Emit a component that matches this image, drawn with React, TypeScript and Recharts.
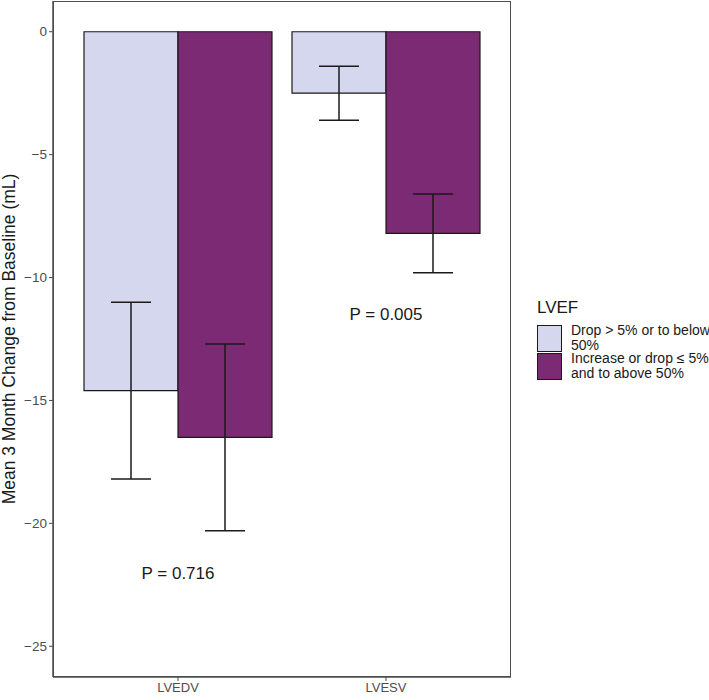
import React from 'react';
import { BarChart, Bar, XAxis, YAxis, ErrorBar, ReferenceDot } from 'recharts';

const categories = ['LVEDV', 'LVESV'];
const dropMeans = [-14.6, -2.5];
const dropErr = [3.6, 1.1];
const incMeans = [-16.5, -8.2];
const incErr = [3.8, 1.6];
const yTicks = [0, -5, -10, -15, -20, -25];
const pLabels = [
  { x: 'LVEDV', y: -22, text: 'P = 0.716' },
  { x: 'LVESV', y: -11.5, text: 'P = 0.005' },
];
const legendTitle = 'LVEF';
const seriesNames = ['Drop > 5% or to below 50%', 'Increase or drop \u2264 5% and to above 50%'];

const data = categories.map((c, i) => ({
  name: c,
  drop: dropMeans[i],
  dropErr: dropErr[i],
  inc: incMeans[i],
  incErr: incErr[i],
}));

const LIGHT = '#d5d7ee';
const PURPLE = '#7b2a73';
const FONT = '"Liberation Sans", Arial, Helvetica, sans-serif';
const BORDER = '#4d4d4d';

const YTick = (props: any) => {
  const { x, y, payload } = props;
  const v = payload.value as number;
  const s = v < 0 ? '\u2212' + String(Math.abs(v)) : String(v);
  return (
    <text x={x} y={y} dy={4.5} textAnchor="end" fill="#4d4d4d" fontSize={13.5} fontFamily={FONT}>
      {s}
    </text>
  );
};

export default function App() {
  return (
    <div style={{ position: 'absolute', left: 0, top: 0, width: 709, height: 700, background: '#fff', fontFamily: FONT }}>
      <BarChart
        width={709}
        height={700}
        data={data}
        margin={{ top: 1, right: 198, bottom: 0, left: 0 }}
        barGap={0}
        barCategoryGap={10}
      >
        <XAxis
          dataKey="name"
          padding={{ left: 21, right: 21 }}
          height={23}
          stroke={BORDER}
          tickLine={{ stroke: BORDER }}
          tickSize={4}
          axisLine={{ stroke: BORDER, strokeWidth: 1.5 }}
          tick={{ fill: '#4d4d4d', fontSize: 13, fontFamily: FONT }}
        />
        <YAxis
          width={53}
          domain={[-26.25, 1.25]}
          ticks={yTicks}
          allowDataOverflow
          stroke={BORDER}
          tickSize={4}
          axisLine={{ stroke: BORDER, strokeWidth: 1.5 }}
          tick={<YTick />}
          label={{
            value: 'Mean 3 Month Change from Baseline (mL)',
            angle: -90,
            position: 'insideLeft',
            offset: 9,
            style: { textAnchor: 'middle', fill: '#1a1a1a', fontSize: 17.5, fontFamily: FONT },
          }}
        />
        <Bar dataKey="drop" fill={LIGHT} stroke="#1a1a1a" strokeWidth={1.2} isAnimationActive={false}>
          <ErrorBar dataKey="dropErr" width={20} stroke="#1a1a1a" strokeWidth={1.5} direction="y" isAnimationActive={false} />
        </Bar>
        <Bar dataKey="inc" fill={PURPLE} stroke="#1a1a1a" strokeWidth={1.2} isAnimationActive={false}>
          <ErrorBar dataKey="incErr" width={20} stroke="#1a1a1a" strokeWidth={1.5} direction="y" isAnimationActive={false} />
        </Bar>
        {pLabels.map((p) => (
          <ReferenceDot
            key={p.text}
            x={p.x}
            y={p.y}
            r={0}
            fill="none"
            stroke="none"
            label={{ value: p.text, position: 'center', fill: '#1a1a1a', fontSize: 17, fontFamily: FONT }}
          />
        ))}
      </BarChart>
      <div
        style={{
          position: 'absolute',
          left: 53,
          top: 1,
          width: 458,
          height: 676,
          border: `1.5px solid ${BORDER}`,
          boxSizing: 'border-box',
          pointerEvents: 'none',
        }}
      />
      <div style={{ position: 'absolute', left: 537, top: 297, fontFamily: FONT, color: '#1a1a1a' }}>
        <div style={{ fontSize: 17, lineHeight: '22px', marginBottom: 5 }}>{legendTitle}</div>
        {seriesNames.map((n, i) => (
          <div key={n} style={{ display: 'flex', alignItems: 'center', height: 28 }}>
            <div
              style={{
                width: 25,
                height: 27,
                background: i === 0 ? LIGHT : PURPLE,
                border: '1.5px solid #1a1a1a',
                boxSizing: 'border-box',
                marginRight: 9,
              }}
            />
            <div style={{ fontSize: 14, lineHeight: '15px', width: 145 }}>{n}</div>
          </div>
        ))}
      </div>
    </div>
  );
}
